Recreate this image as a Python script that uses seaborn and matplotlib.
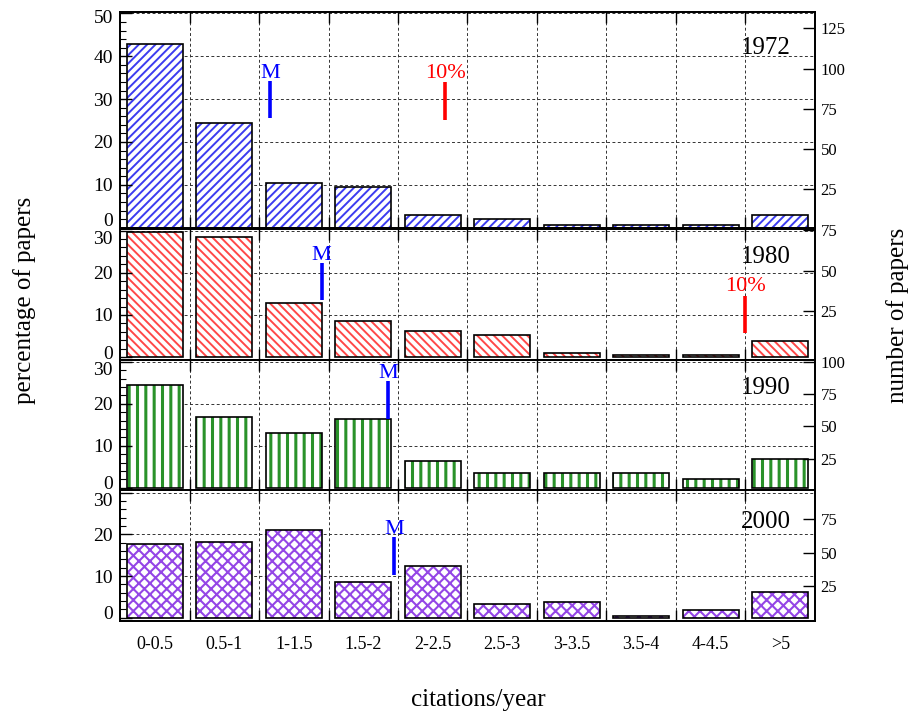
import numpy as np
import pandas as pd
import matplotlib
matplotlib.use("Agg")
import matplotlib.pyplot as plt
import matplotlib.transforms as mtrans
import seaborn as sns
from matplotlib.patches import Rectangle
from matplotlib.ticker import MultipleLocator, FixedLocator

# ---------------- data ----------------
categories = ["0-0.5", "0.5-1", "1-1.5", "1.5-2", "2-2.5",
              "2.5-3", "3-3.5", "3.5-4", "4-4.5", ">5"]
years = ["1972", "1980", "1990", "2000"]
pct_1972 = [42.9, 24.5, 10.5, 9.5, 3.0, 2.0, 0.6, 0.6, 0.6, 3.0]
pct_1980 = [29.6, 28.6, 12.9, 8.6, 6.2, 5.2, 1.0, 0.5, 0.5, 3.8]
pct_1990 = [24.4, 16.8, 13.0, 16.4, 6.4, 3.5, 3.6, 3.6, 2.1, 6.8]
pct_2000 = [17.6, 18.1, 21.0, 8.5, 12.3, 3.2, 3.7, 0.3, 1.8, 6.1]
median_cpy = [1.08, 1.45, 1.93, 1.97]      # "M" marker, citations/year
top10_cpy = [2.34, 4.50, None, None]        # "10%" marker, citations/year
bin_width = 0.5
left_ticks = [[0, 10, 20, 30, 40, 50], [0, 10, 20, 30], [0, 10, 20, 30], [0, 10, 20, 30]]
right_ticks = [[25, 50, 75, 100, 125], [25, 50, 75], [25, 50, 75, 100], [25, 50, 75]]

df = pd.DataFrame({
    "year": np.repeat(years, len(categories)),
    "bin": categories * len(years),
    "pct": pct_1972 + pct_1980 + pct_1990 + pct_2000,
})

# ---------------- layout / style ----------------
left_ylim = [(-0.2, 50.4), (-0.64, 30.5), (-0.48, 30.5), (-0.72, 30.7)]
right_ylim = [(0.8, 135.3), (-4.6, 75.7), (0.8, 101.4), (-0.9, 96.9)]
m_span = [(25.5, 34.2), (13.5, 22.4), (16.4, 25.5), (10.2, 19.4)]
t_span = [(25.2, 33.9), (5.7, 14.6), None, None]
year_ypos = [0.832, 0.784, 0.782, 0.757]
# pixel shifts of lowest / highest left tick label (ROOT-style placement)
label_shift = [(8, -3), (5, -7), (5, -7), (5, -7)]
styles = [
    dict(hatch="////", color="#3c3cf0", lw=1.4),
    dict(hatch="\\\\\\\\", color="#ff4848", lw=1.4),
    dict(hatch="||", color="#2a922a", lw=2.2),
    dict(hatch="xxx", color="#9446e6", lw=1.5),
]

plt.rcParams["font.family"] = ["Liberation Serif", "DejaVu Serif"]
plt.rcParams["hatch.linewidth"] = 1.4

W, H = 910, 716
fig = plt.figure(figsize=(W / 100, H / 100), dpi=100)
panel_px = [(11.7, 228.5), (228.5, 359.8), (359.8, 489.8), (489.8, 620.7)]
x0, x1 = 120, 815
grid_kw = dict(color="#333333", lw=0.7, ls=(0, (3, 2.5)), zorder=0.5)

for i, yr in enumerate(years):
    top, bot = panel_px[i]
    ax = fig.add_axes([x0 / W, 1 - bot / H, (x1 - x0) / W, (bot - top) / H])
    d = df[df["year"] == yr]
    sns.barplot(data=d, x="bin", y="pct", order=categories, ax=ax,
                width=0.8, color="white", saturation=1, errorbar=None)
    st = styles[i]
    for p in list(ax.patches):
        p.set_facecolor("white")
        p.set_edgecolor(st["color"])
        p.set_linewidth(0)
        p.set_hatch(st["hatch"])
        if hasattr(p, "set_hatch_linewidth"):
            p.set_hatch_linewidth(st["lw"])
        ax.add_patch(Rectangle(p.get_xy(), p.get_width(), p.get_height(),
                               fill=False, ec="black", lw=1.2, zorder=1.1))

    ax.set_xlim(-0.5, len(categories) - 0.5)
    lo, hi = left_ylim[i]
    ax.set_ylim(lo, hi)
    ax.set_xlabel("")
    ax.set_ylabel("")
    ax.set_yticks(left_ticks[i])
    ax.yaxis.set_minor_locator(MultipleLocator(2))
    ax.set_xticks(range(len(categories)))
    ax.set_xticklabels(categories if i == 3 else [])
    bounds = np.arange(0.5, len(categories) - 1, 1)
    ax.xaxis.set_minor_locator(FixedLocator(bounds))
    ax.tick_params(axis="y", which="major", direction="in", length=8.5, width=1,
                   labelsize=14, pad=5, left=True, right=False)
    ax.tick_params(axis="y", which="minor", direction="in", length=4.3, width=0.8,
                   left=True, right=False)
    ax.tick_params(axis="x", which="major", length=0, labelsize=13, pad=11,
                   labelbottom=(i == 3))
    ax.tick_params(axis="x", which="minor", direction="in", length=8, width=1,
                   top=True, bottom=True)
    for s in ax.spines.values():
        s.set_linewidth(1.3)

    for y in left_ticks[i]:
        if y != 0 and lo < y < hi:
            ax.axhline(y, **grid_kw)
    for b in bounds:
        ax.axvline(b, **grid_kw)

    # markers
    mx = median_cpy[i] / bin_width - 0.5
    ax.vlines(mx, *m_span[i], colors="blue", lw=2.6, zorder=3)
    ax.annotate("M", (mx, m_span[i][1]), xytext=(0, 2), textcoords="offset points",
                ha="center", va="baseline", color="blue", fontsize=16)
    if top10_cpy[i] is not None:
        tx = top10_cpy[i] / bin_width - 0.5
        ax.vlines(tx, *t_span[i], colors="red", lw=2.6, zorder=3)
        ax.annotate("10%", (tx, t_span[i][1]), xytext=(0, 3), textcoords="offset points",
                    ha="center", va="baseline", color="red", fontsize=16)

    ax.text(0.9655, year_ypos[i], yr, transform=ax.transAxes, ha="right",
            va="center", fontsize=18)

    # shift lowest/highest tick labels as in the reference
    labels = ax.get_yticklabels()
    up, down = label_shift[i]
    labels[0].set_transform(labels[0].get_transform() +
                            mtrans.ScaledTranslation(0, up / 100, fig.dpi_scale_trans))
    labels[-1].set_transform(labels[-1].get_transform() +
                             mtrans.ScaledTranslation(0, down / 100, fig.dpi_scale_trans))

    ax2 = ax.twinx()
    ax2.set_ylim(*right_ylim[i])
    ax2.set_yticks(right_ticks[i])
    ax2.tick_params(axis="y", direction="in", length=8.5, width=1,
                    labelsize=12, pad=4)
    for s in ax2.spines.values():
        s.set_linewidth(1.3)

fig.text(25 / W, 1 - 300 / H, "percentage of papers", rotation=90,
         ha="center", va="center", fontsize=18)
fig.text(898 / W, 1 - 315 / H, "number of papers", rotation=90,
         ha="center", va="center", fontsize=18)
fig.text(478 / W, 1 - 700 / H, "citations/year", ha="center", va="center", fontsize=18)

fig.savefig("out.png", dpi=100)
